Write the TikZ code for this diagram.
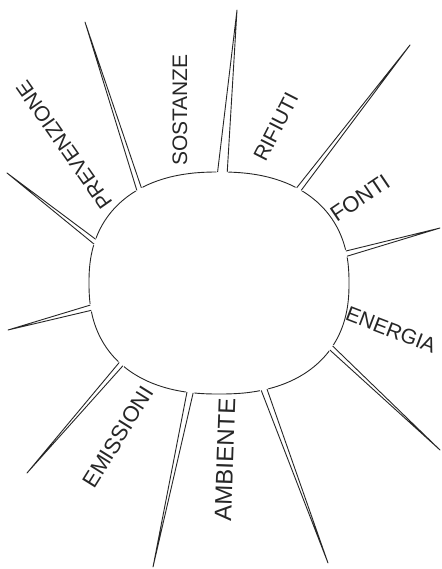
\documentclass[tikz,border=0pt]{standalone}
\usepackage{fontspec}
\setmainfont{Liberation Sans}
\usepackage{tikz}
\usetikzlibrary{positioning}

\begin{document}
\begin{tikzpicture}[
  x=1pt, y=-1pt,
  declare function={ox(\t)=219+130*sign(cos(\t))*abs(cos(\t))^0.86;
                    oy(\t)=283+111*sign(sin(\t))*abs(sin(\t))^0.86;},
  rim/.style={line width=0.9pt, black!85},
  ray/.style={line width=0.9pt, black!85, line join=round},
  gap/.style={white, line width=2.6pt, line join=round},
  lbl/.style={inner sep=0pt, text=black!85, font=\fontsize{21}{24}\selectfont}
]
  \useasboundingbox (0,0) rectangle (441,569);
  % the sun body
  \draw[rim] plot[domain=1:358, samples=120, smooth cycle] ({ox(\x)},{oy(\x)});
  % rays: number / angle on the rim / tip
  \foreach \n/\t/\tx/\ty in {1/235.4/85/22, 2/271/237/10, 3/304.6/410/45,
      4/347.7/440/228, 5/32.5/440/450, 6/73/328/563, 7/100/153/567,
      8/136/27/473, 9/170/8/330, 10/198.5/7/173} {
    \coordinate (r\n a) at ({ox(\t-1.3)},{oy(\t-1.3)});
    \coordinate (r\n b) at ({ox(\t+1.3)},{oy(\t+1.3)});
    \coordinate (r\n t) at (\tx,\ty);
    \filldraw[gap] (r\n a) -- (r\n t) -- (r\n b) -- cycle;
    \draw[ray] (r\n a) -- (r\n t) -- (r\n b);
  }
  % words between the rays
  \node[lbl, rotate=125] (prev) at (64,145) {PREVENZIONE};
  \node[lbl, rotate=90] (sost) at (180,110) {SOSTANZE};
  \node[lbl, rotate=63] (rifi) at (276,127) {RIFIUTI};
  \node[lbl, rotate=34, font=\fontsize{22}{24}\selectfont] (fonti) at (360,198) {FONTI};
  \node[lbl, rotate=-21] (ener) at (391,330) {ENERGIA};
  \node[lbl, rotate=88, font=\fontsize{24}{26}\selectfont] (amb) at (225,460) {AMBIENTE};
  \node[lbl, rotate=58, font=\fontsize{22}{24}\selectfont] (emis) at (118,437) {EMISSIONI};
\end{tikzpicture}
\end{document}
